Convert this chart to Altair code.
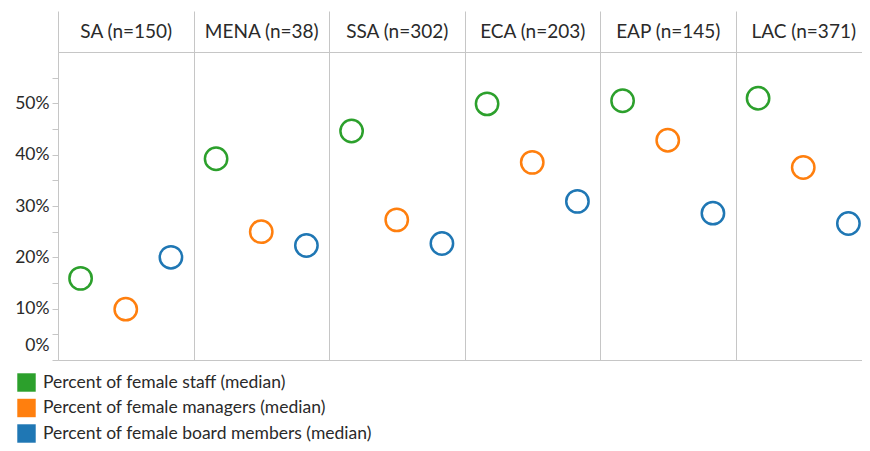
import altair as alt
import pandas as pd

regions = ["SA (n=150)", "MENA (n=38)", "SSA (n=302)", "ECA (n=203)", "EAP (n=145)", "LAC (n=371)"]
series = [
    "Percent of female staff (median)",
    "Percent of female managers (median)",
    "Percent of female board members (median)",
]
staff = [15.9, 39.2, 44.6, 49.9, 50.5, 51.0]
managers = [9.9, 25.0, 27.3, 38.5, 42.8, 37.5]
board = [20.0, 22.3, 22.7, 30.9, 28.6, 26.6]
colors = ["#2ca02c", "#ff7f0e", "#1f77b4"]
y_ticks = [0, 5, 10, 15, 20, 25, 30, 35, 40, 45, 50, 55]

rows = []
for s, vals in zip(series, [staff, managers, board]):
    for r, v in zip(regions, vals):
        rows.append({"region": r, "series": s, "value": v / 100})
df = pd.DataFrame(rows)

FONT = "Lato"
GRID = "#c6c6c6"
TEXT = "#2a2a2a"

legend_def = alt.Legend(
    orient="none",
    legendX=-41,
    legendY=321,
    direction="vertical",
    title=None,
    symbolType="square",
    symbolSize=340,
    symbolStrokeWidth=0,
    symbolOpacity=1,
    labelFont=FONT,
    labelFontSize=17.5,
    labelColor=TEXT,
    labelOffset=7,
    rowPadding=6.5,
    labelLimit=500,
)

hide_last = {"condition": {"test": "datum.index === 1", "value": 0}, "value": 1}

base = alt.Chart(df).encode(
    x=alt.X(
        "region:N",
        sort=regions,
        title=None,
        scale=alt.Scale(range=[0, 813], paddingInner=0, paddingOuter=0),
        axis=alt.Axis(
            orient="top",
            tickBand="extent",
            tickSize=41,
            tickColor=GRID,
            tickOpacity=hide_last,
            domainColor=GRID,
            grid=True,
            gridColor=GRID,
            gridOpacity=hide_last,
            labelPadding=-20,
            labelBaseline="middle",
            labelFont=FONT,
            labelFontSize=19,
            labelColor=TEXT,
            labelAngle=0,
        ),
    ),
    xOffset=alt.XOffset(
        "series:N", sort=series, scale=alt.Scale(type="point", padding=0.5)
    ),
    y=alt.Y(
        "value:Q",
        title=None,
        scale=alt.Scale(domain=[0, 0.6], nice=False, zero=True),
        axis=alt.Axis(
            values=[t / 100 for t in y_ticks],
            format=".0%",
            labelExpr="round(datum.value*100) % 10 == 0 ? datum.label : ''",
            tickSize=6,
            tickColor=GRID,
            domainColor=GRID,
            grid=True,
            gridColor=GRID,
            gridOpacity={"condition": {"test": "datum.value == 0", "value": 1}, "value": 0},
            labelPadding=3,
            labelFont=FONT,
            labelFontSize=17.5,
            labelColor=TEXT,
            labelFlush=True,
            labelFlushOffset=-6,
        ),
    ),
)

points = base.mark_point(
    filled=False, size=500, strokeWidth=2.5, opacity=1, shape="circle"
).encode(
    stroke=alt.Stroke(
        "series:N", sort=series, scale=alt.Scale(domain=series, range=colors), legend=legend_def
    )
)

legend_layer = base.mark_square(size=0, opacity=1, filled=True).encode(
    fill=alt.Fill(
        "series:N",
        sort=series,
        scale=alt.Scale(domain=series, range=colors),
        legend=legend_def,
    )
)

chart = alt.layer(points, legend_layer).properties(
    width=804,
    height=308,
    autosize=alt.AutoSizeParams(type="none"),
    padding={"left": 50, "top": 44, "right": 0, "bottom": 83},
).configure_view(stroke=None)

chart.save("out.html", embed_options={"renderer": "svg", "actions": False})
